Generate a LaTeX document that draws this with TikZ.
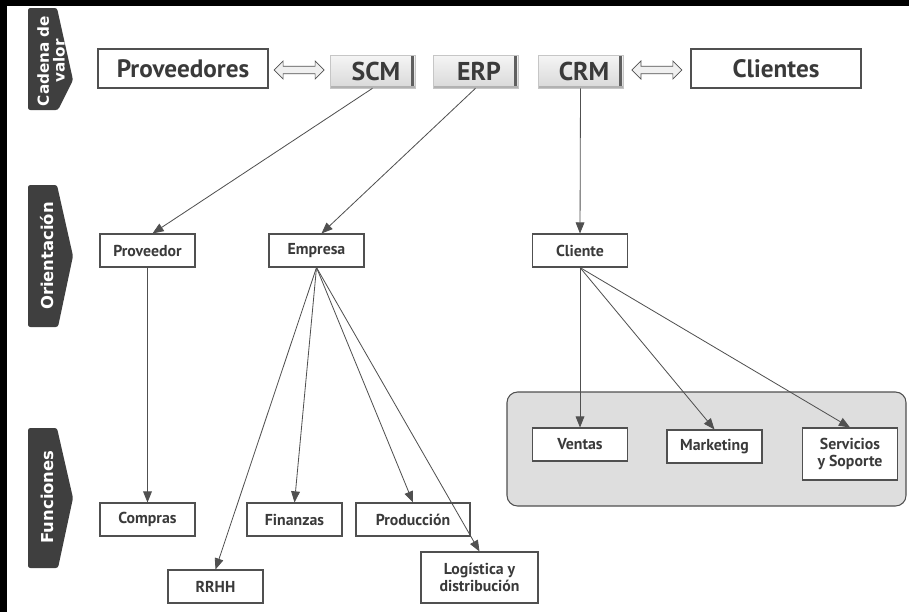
\documentclass[tikz,border=0pt]{standalone}
\usepackage{fontspec}
\setmainfont{PT Sans}
\newfontfamily\tabfont{DejaVu Sans}
\usetikzlibrary{arrows.meta,positioning,shapes.arrows,calc}

\definecolor{txtgray}{HTML}{3A3A3A}
\definecolor{linegray}{HTML}{505050}
\definecolor{tabgray}{HTML}{3F3F3F}
\definecolor{panelgray}{HTML}{DEDEDE}

\tikzset{
  box/.style={draw=linegray, line width=0.9pt, fill=white, text=txtgray, inner sep=0pt,
    align=center, font=\bfseries\fontsize{13.5}{14.5}\selectfont,
    minimum width=2.85cm, minimum height=0.99cm},
  bigbox/.style={box, font=\bfseries\fontsize{21.5}{23}\selectfont,
    minimum width=5.1cm, minimum height=1.17cm},
  btn/.style={draw=gray!45, line width=0.5pt, top color=gray!8, bottom color=gray!30,
    text=txtgray, inner sep=0pt, font=\bfseries\fontsize{22}{24}\selectfont,
    minimum width=2.55cm, minimum height=0.99cm,
    path picture={
      \draw[gray!75!black, line width=2pt]
        ([xshift=-2pt]path picture bounding box.north east) -- ([xshift=-2pt]path picture bounding box.south east);
      \draw[gray!60, line width=1.5pt]
        ([yshift=0.8pt]path picture bounding box.south west) -- ([yshift=0.8pt]path picture bounding box.south east);
    }},
  swap/.style={double arrow, draw=linegray, fill=gray!12, line width=0.6pt,
    minimum height=1.5cm, inner xsep=0pt, inner ysep=0.1cm,
    double arrow head extend=0.16cm},
  conn/.style={linegray, line width=0.7pt, -{Triangle[length=9.5pt,width=7.5pt]}},
  tablbl/.style={text=white, rotate=90, align=center, inner sep=0pt,
    font=\tabfont\bfseries\fontsize{14}{14.5}\selectfont}
}

\begin{document}
\begin{tikzpicture}[x=0.03cm,y=-0.03cm]
\useasboundingbox (0,0) rectangle (909,612);
% frame
\fill (0,0) rectangle (909,6);
\fill (0,0) rectangle (7,612);
% side tabs
\foreach \yt/\yp/\yb in {8/80/110, 185/256/327, 428/498/568} {
    \fill[tabgray, rounded corners=2pt] (28,\yt) -- (57,\yt) -- (73,\yp) -- (58,\yb) -- (28,\yb) -- cycle;
}
\node[tablbl, font=\tabfont\bfseries\fontsize{13}{13.5}\selectfont] at (51,61) {Cadena de\\valor};
\node[tablbl] at (47,256) {Orientación};
\node[tablbl] at (47,497) {Funciones};
% value chain
\node[bigbox] (prov) at (183,68.5) {Proveedores};
\node[btn] (scm) at (372.5,71.5) {\hspace{6pt}SCM};
\node[btn] (erp) at (475.5,71.5) {\hspace{6pt}ERP};
\node[btn] (crm) at (580.5,71.5) {\hspace{6pt}CRM};
\node[bigbox] (cli) at (776,68.5) {Clientes};
\node[swap] at ($(prov.east)!0.5!(scm.west)$) {};
\node[swap] at ($(crm.east)!0.5!(cli.west)$) {};
% orientation
\node[box] (proveedor) at (147.5,250.5) {Proveedor};
\node[box] (empresa) at (316.5,250.5) {Empresa};
\node[box] (cliente) at (580,250.5) {Cliente};
% functions
\draw[linegray, fill=panelgray, line width=0.9pt, rounded corners=9pt] (507,392) rectangle (906,506);
\node[box] (compras) at (147.5,519.5) {Compras};
\node[box] (finanzas) at (294.5,519.5) {Finanzas};
\node[box, minimum width=3.42cm] (produccion) at (413,519.5) {Producción};
\node[box] (rrhh) at (215.5,586.5) {RRHH};
\node[box, minimum width=3.51cm, minimum height=1.53cm] (logistica) at (479.5,577.5) {Logística y\\distribución};
\node[box] (ventas) at (580,444.5) {Ventas};
\node[box] (marketing) at (714.5,446.5) {Marketing};
\node[box, minimum height=1.56cm] (servicios) at (850,454) {Servicios\\y Soporte};
% connectors
\draw[conn] (scm.south) -- ([xshift=0.15cm]proveedor.north);
\draw[conn] (erp.south) -- ([xshift=0.15cm]empresa.north);
\draw[conn] (crm.south) -- (cliente.north);
\draw[conn] (proveedor.south) -- (compras.north);
\foreach \t in {rrhh,finanzas,produccion,logistica} {
    \draw[conn] (empresa.south) -- (\t.north);
}
\foreach \t in {ventas,marketing,servicios} {
    \draw[conn] (cliente.south) -- (\t.north);
}
\end{tikzpicture}
\end{document}
